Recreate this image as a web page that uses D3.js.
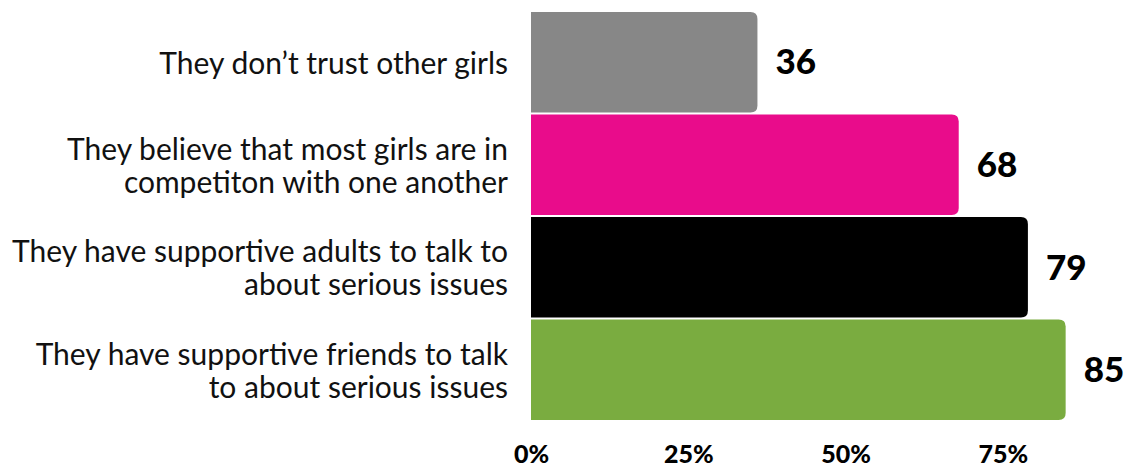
<!DOCTYPE html>
<html>
<head>
<meta charset="utf-8">
<script src="https://cdn.jsdelivr.net/npm/d3@7"></script>
<style>
  html, body { margin: 0; padding: 0; background: #fff; }
  svg { display: block; }
  .cat { font-family: Lato, "Noto Sans", sans-serif; font-weight: 400; font-size: 30px; fill: #111; }
  .val { font-family: Lato, "Noto Sans", sans-serif; font-weight: 900; font-size: 35px; fill: #000; }
  .axis text { font-family: Lato, "Noto Sans", sans-serif; font-weight: 900; font-size: 25px; fill: #000; }
</style>
</head>
<body>
<svg id="chart" width="1128" height="471"></svg>
<script>
// Share of girls agreeing with each statement (%)
const categories = [
  ["They don\u2019t trust other girls"],
  ["They believe that most girls are in", "competiton with one another"],
  ["They have supportive adults to talk to", "about serious issues"],
  ["They have supportive friends to talk", "to about serious issues"]
];
const values = [36, 68, 79, 85];
const barColors = ["#878787", "#e90c8b", "#000000", "#7aac40"];
const tickValues = [0, 25, 50, 75];

const svg = d3.select("#chart");

const x = d3.scaleLinear().domain([0, 100]).range([531, 1160]);
const y = d3.scaleBand()
  .domain(d3.range(values.length))
  .range([12, 420])
  .paddingInner(0.02);

const r = 7;
// bar with squared left edge and rounded right corners
function barPath(x0, x1, y0, h) {
  const rr = Math.min(r, (x1 - x0), h / 2);
  return `M${x0},${y0}H${x1 - rr}Q${x1},${y0} ${x1},${y0 + rr}V${y0 + h - rr}Q${x1},${y0 + h} ${x1 - rr},${y0 + h}H${x0}Z`;
}

svg.selectAll("path.bar")
  .data(values)
  .join("path")
  .attr("class", "bar")
  .attr("fill", (d, i) => barColors[i])
  .attr("d", (d, i) => barPath(x(0), x(d), y(i), y.bandwidth()));

// value labels to the right of each bar
svg.selectAll("text.val")
  .data(values)
  .join("text")
  .attr("class", "val")
  .attr("x", d => x(d) + 18)
  .attr("y", (d, i) => y(i) + y.bandwidth() / 2)
  .attr("dy", "0.35em")
  .text(d => d);

// category labels, right aligned, one or two lines
const lineH = 33;
const cats = svg.selectAll("text.cat")
  .data(categories)
  .join("text")
  .attr("class", "cat")
  .attr("text-anchor", "end")
  .attr("x", 508)
  .attr("y", (d, i) => y(i) + y.bandwidth() / 2 - (d.length - 1) * lineH / 2)
  .attr("dy", "0.38em");
cats.selectAll("tspan")
  .data(d => d)
  .join("tspan")
  .attr("x", 508)
  .attr("dy", (d, j) => j === 0 ? null : lineH)
  .text(d => d);

// percentage axis along the bottom
const axis = d3.axisBottom(x)
  .tickValues(tickValues)
  .tickFormat(d => d + "%")
  .tickSize(0)
  .tickPadding(0);
const g = svg.append("g")
  .attr("class", "axis")
  .attr("transform", "translate(0,444)")
  .call(axis);
g.select(".domain").remove();
g.selectAll("text").attr("y", 19).attr("dy", null);
</script>
</body>
</html>
